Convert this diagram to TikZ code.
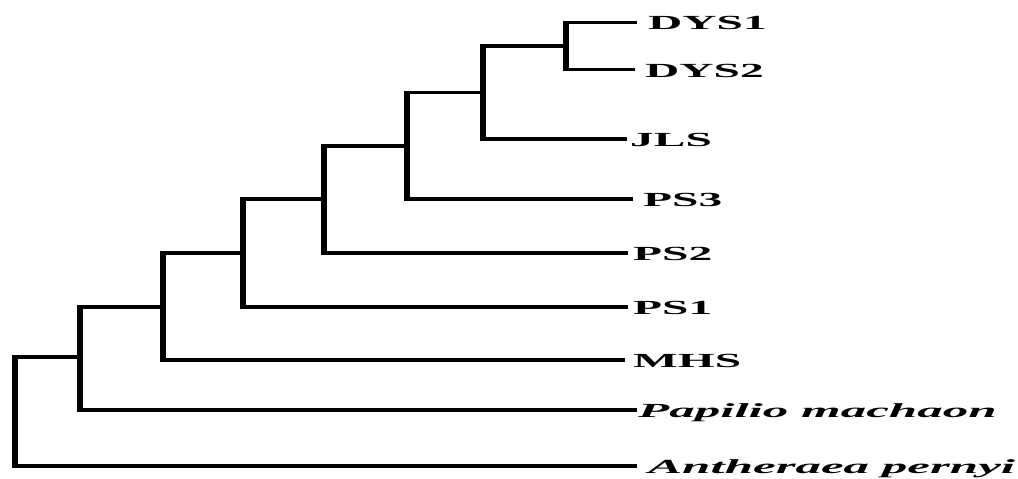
\documentclass[tikz,border=0pt]{standalone}
\usepackage{fontspec}
\setmainfont{Liberation Serif}
\usepackage{graphicx}
% wide-set taxon labels
\newcommand\taxon[1]{\scalebox{2.37}[1]{\bfseries #1}}
\newcommand\species[1]{\scalebox{2.55}[1]{\bfseries\itshape #1}}
\begin{document}
\begin{tikzpicture}[x=1pt,y=-1pt,
  vline/.style={line width=5.8pt, shorten <=-1.6pt, shorten >=-1.6pt},
  hline/.style={line width=3.2pt},
  leaf/.style={anchor=base west, inner sep=0pt, font=\fontsize{20}{20}\selectfont}]
\useasboundingbox (0,0) rectangle (1018,479);

% branch tips
\coordinate (tD1) at (637,22.5);
\coordinate (tD2) at (635,69.5);
\coordinate (tJ)  at (627,139);
\coordinate (tP3) at (633,199);
\coordinate (tP2) at (628,253);
\coordinate (tP1) at (628,307);
\coordinate (tM)  at (625,360);
\coordinate (tPa) at (637,410);
\coordinate (tAn) at (637,466);

% taxon labels
\node[leaf] (D1) at (648,30)  {\taxon{DYS1}};
\node[leaf] (D2) at (645,77)  {\taxon{DYS2}};
\node[leaf] (J)  at (630,146.5) {\taxon{JLS}};
\node[leaf] (P3) at (643,206.5) {\taxon{PS3}};
\node[leaf] (P2) at (633,260.5) {\taxon{PS2}};
\node[leaf] (P1) at (633,314.5) {\taxon{PS1}};
\node[leaf] (M)  at (633,367.5) {\taxon{MHS}};
\node[leaf] (Pa) at (638,417.5) {\species{Papilio machaon}};
\node[leaf] (An) at (648,473.5) {\species{Antheraea pernyi}};

% internal nodes (x = depth, y = midpoint of the two children)
\coordinate (n7) at (566,46);
\coordinate (n6) at (483,92.5);
\coordinate (n5) at (407,146);
\coordinate (n4) at (324,199);
\coordinate (n3) at (243,253);
\coordinate (n2) at (163,307);
\coordinate (n1) at (80,357);
\coordinate (n0) at (15,357);

% clades: vertical bar, then the two horizontal branches
\draw[vline] (n7 |- tD1) -- (n7 |- tD2);
\draw[hline] (n7 |- tD1) -- (tD1);
\draw[hline] (n7 |- tD2) -- (tD2);

\draw[vline] (n6 |- n7) -- (n6 |- tJ);
\draw[hline] (n6 |- n7) -- (n7);
\draw[hline] (n6 |- tJ) -- (tJ);

\draw[vline] (n5 |- n6) -- (n5 |- tP3);
\draw[hline] (n5 |- n6) -- (n6);
\draw[hline] (n5 |- tP3) -- (tP3);

\draw[vline] (n4 |- n5) -- (n4 |- tP2);
\draw[hline] (n4 |- n5) -- (n5);
\draw[hline] (n4 |- tP2) -- (tP2);

\draw[vline] (n3 |- n4) -- (n3 |- tP1);
\draw[hline] (n3 |- n4) -- (n4);
\draw[hline] (n3 |- tP1) -- (tP1);

\draw[vline] (n2 |- n3) -- (n2 |- tM);
\draw[hline] (n2 |- n3) -- (n3);
\draw[hline] (n2 |- tM) -- (tM);

\draw[vline] (n1 |- n2) -- (n1 |- tPa);
\draw[hline] (n1 |- n2) -- (n2);
\draw[hline] (n1 |- tPa) -- (tPa);

\draw[vline] (n0 |- n1) -- (n0 |- tAn);
\draw[hline] (n0 |- n1) -- (n1);
\draw[hline] (n0 |- tAn) -- (tAn);
\end{tikzpicture}
\end{document}
